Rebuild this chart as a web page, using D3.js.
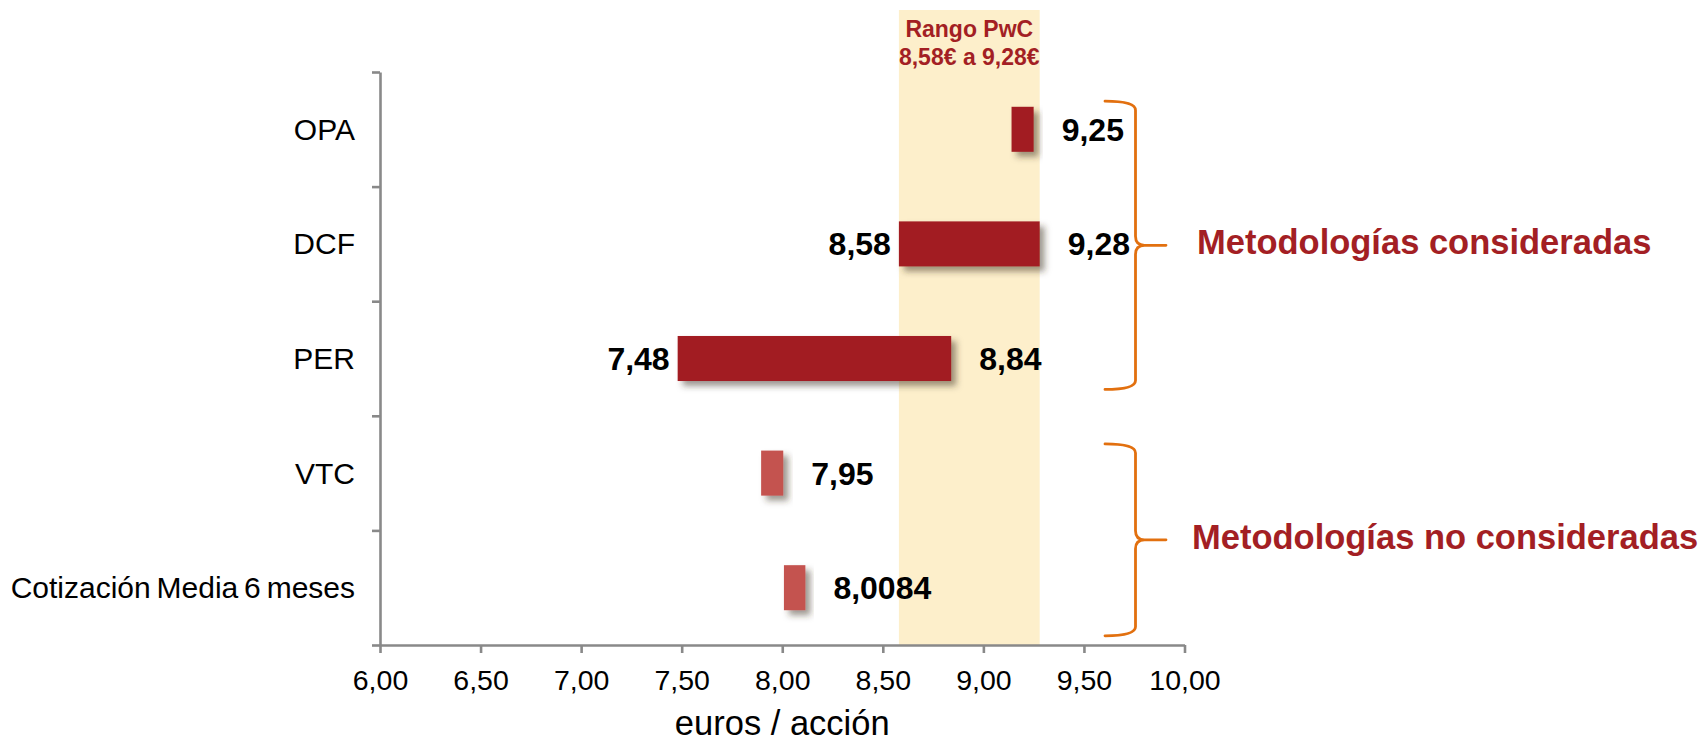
<!DOCTYPE html>
<html>
<head>
<meta charset="utf-8">
<script src="https://cdn.jsdelivr.net/npm/d3@7"></script>
<style>
  html, body { margin: 0; padding: 0; background: #ffffff; }
  svg { display: block; font-family: "Liberation Sans", Arial, sans-serif; }
</style>
</head>
<body>
<svg id="chart" width="1705" height="745"></svg>
<script>
// Valuation methods (rows, top to bottom)
const categories = ["OPA", "DCF", "PER", "VTC", "Cotización Media 6 meses"];
// Stated values: low end (if any) and high / single value, euros per share
const lowValues  = [null, 8.58, 7.48, null, null];
const highValues = [9.25, 9.28, 8.84, 7.95, 8.0084];
// Extent of each drawn bar (single-value methods get a short marker bar)
const barStart = [9.14, 8.58, 7.48, 7.895, 8.0084];
const barEnd   = [9.25, 9.28, 8.84, 8.005, 8.115];
// Whether the method is part of the valuation
const considered = [true, true, true, false, false];
// PwC valuation range
const rangeLow = 8.58, rangeHigh = 9.28;
const rangeTitle = ["Rango PwC", "8,58€ a 9,28€"];
// X axis ticks
const xTicks = [6.00, 6.50, 7.00, 7.50, 8.00, 8.50, 9.00, 9.50, 10.00];
const xTitle = "euros / acción";
// Brace groups on the right
const groupLabels = ["Metodologías consideradas", "Metodologías no consideradas"];
const groupFrom = ["OPA", "VTC"];
const groupTo = ["PER", "Cotización Media 6 meses"];

const svg = d3.select("#chart");
const axisColor = "#898989";
const darkRed = "#A21F22";
const lightRed = "#C4534F";
const accentRed = "#A31F24";
const braceColor = "#E2700F";

const plotTop = 72, plotBottom = 645, plotLeft = 380, plotRight = 1184.5;

const x = d3.scaleLinear().domain([6, 10]).range([plotLeft, plotRight]);
const yRow = d3.scaleBand().domain(categories).range([plotTop, plotBottom]).padding(0);
const yBar = d3.scaleBand().domain(categories).range([plotTop, plotBottom])
  .paddingInner(0.607).paddingOuter(0.3035);
const yEdge = d3.scaleLinear().domain([0, categories.length]).range([plotTop, plotBottom]);

const comma = v => String(v).replace(".", ",");

// Shadow for the bars
const defs = svg.append("defs");
const f = defs.append("filter").attr("id", "shadow")
  .attr("x", "-20%").attr("y", "-20%").attr("width", "160%").attr("height", "160%");
f.append("feDropShadow").attr("dx", 5).attr("dy", 5).attr("stdDeviation", 3.2)
  .attr("flood-color", "#3a3020").attr("flood-opacity", 0.5);

// PwC range band
svg.append("rect")
  .attr("x", x(rangeLow)).attr("y", 10)
  .attr("width", x(rangeHigh) - x(rangeLow)).attr("height", plotBottom - 10)
  .attr("fill", "#FDEFCB");

svg.append("g").selectAll("text").data(rangeTitle).join("text")
  .attr("x", (x(rangeLow) + x(rangeHigh)) / 2)
  .attr("y", (d, i) => 36.5 + i * 28.5)
  .attr("text-anchor", "middle")
  .attr("font-size", 23).attr("font-weight", "bold")
  .attr("fill", accentRed)
  .text(d => d);

// Bars
const rows = categories.map((c, i) => ({
  c, lo: lowValues[i], hi: highValues[i], s: barStart[i], e: barEnd[i], k: considered[i]
}));

svg.append("g").selectAll("rect").data(rows).join("rect")
  .attr("x", d => x(d.s))
  .attr("y", d => yBar(d.c))
  .attr("width", d => x(d.e) - x(d.s))
  .attr("height", yBar.bandwidth())
  .attr("fill", d => d.k ? darkRed : lightRed)
  .attr("filter", "url(#shadow)");

// Value labels
const labels = svg.append("g")
  .attr("font-size", 32).attr("font-weight", "bold").attr("fill", "#000");
labels.selectAll("text.hi").data(rows).join("text").attr("class", "hi")
  .attr("x", d => x(d.e) + 28)
  .attr("y", d => yBar(d.c) + yBar.bandwidth() / 2)
  .attr("dy", "0.36em")
  .text(d => comma(d.hi));
labels.selectAll("text.lo").data(rows.filter(d => d.lo != null)).join("text").attr("class", "lo")
  .attr("x", d => x(d.s) - 8)
  .attr("y", d => yBar(d.c) + yBar.bandwidth() / 2)
  .attr("dy", "0.36em")
  .attr("text-anchor", "end")
  .text(d => comma(d.lo));

// Y axis (row separators)
const yAxis = svg.append("g").attr("transform", `translate(${plotLeft},0)`)
  .call(d3.axisLeft(yEdge).tickValues(d3.range(0, categories.length + 1))
    .tickSize(8).tickSizeOuter(0).tickFormat(""));
yAxis.selectAll("path, line").attr("stroke", axisColor).attr("stroke-width", 2.6);

svg.append("g").selectAll("text").data(categories).join("text")
  .attr("x", plotLeft - 25)
  .attr("y", d => yRow(d) + yRow.bandwidth() / 2)
  .attr("dy", "0.35em")
  .attr("text-anchor", "end")
  .attr("font-size", 30)
  .attr("word-spacing", -2.5)
  .attr("fill", "#000")
  .text(d => d);

// X axis
const xAxis = svg.append("g").attr("transform", `translate(0,${plotBottom})`)
  .call(d3.axisBottom(x).tickValues(xTicks).tickSize(8).tickSizeOuter(0)
    .tickPadding(17).tickFormat(d => d3.format(".2f")(d).replace(".", ",")));
xAxis.selectAll("path, line").attr("stroke", axisColor).attr("stroke-width", 2.6);
xAxis.selectAll("text").attr("font-size", 28.5).attr("fill", "#000")
  .attr("font-family", "'Liberation Sans', Arial, sans-serif");

svg.append("text")
  .attr("x", x(8)).attr("y", 735)
  .attr("text-anchor", "middle")
  .attr("font-size", 34.5).attr("fill", "#000")
  .text(xTitle);

// Curly braces grouping the methods
const step = yRow.step();
const braces = groupLabels.map((label, i) => ({
  label,
  top: yRow(groupFrom[i]) + (i === 0 ? 0.255 : 0.245) * step,
  bottom: yRow(groupTo[i]) + (i === 0 ? 0.77 : 0.92) * step,
  textX: i === 0 ? 1197 : 1192
}));
const bx0 = 1105, bx1 = 1135.5, bx2 = 1166, br = 9;
function bracePath(t, b) {
  const m = (t + b) / 2;
  return `M${bx0},${t} Q${bx1},${t} ${bx1},${t + br} L${bx1},${m - br} ` +
    `Q${bx1},${m} ${bx1 + br},${m} L${bx2},${m} M${bx1 + br},${m} ` +
    `Q${bx1},${m} ${bx1},${m + br} L${bx1},${b - br} Q${bx1},${b} ${bx0},${b}`;
}
const bg = svg.append("g");
bg.selectAll("path").data(braces).join("path")
  .attr("d", d => bracePath(d.top, d.bottom))
  .attr("fill", "none").attr("stroke", braceColor).attr("stroke-width", 2.8)
  .attr("stroke-linecap", "round");
bg.selectAll("text").data(braces).join("text")
  .attr("x", d => d.textX)
  .attr("y", d => (d.top + d.bottom) / 2 + 9)
  .attr("font-size", 34.5).attr("font-weight", "bold")
  .attr("fill", accentRed)
  .text(d => d.label);
</script>
</body>
</html>
